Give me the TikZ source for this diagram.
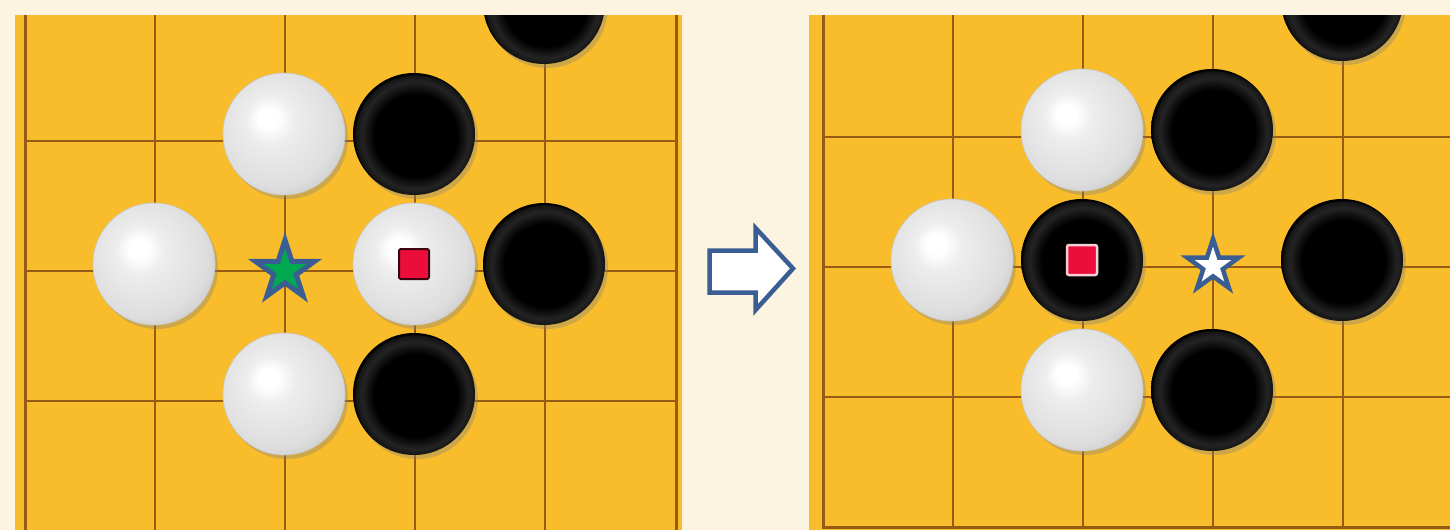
\documentclass[tikz,border=0pt]{standalone}
\usetikzlibrary{shapes.geometric,shadows}
\definecolor{paper}{RGB}{252,243,224}
\definecolor{wood}{RGB}{249,189,44}
\definecolor{gridline}{RGB}{150,92,22}
\definecolor{markblue}{RGB}{58,94,148}
\definecolor{markgreen}{RGB}{0,168,80}
\definecolor{markred}{RGB}{236,14,58}
\pgfdeclareradialshading{whitestone}{\pgfpoint{-7bp}{7bp}}{color(0bp)=(white); color(4bp)=(white); color(10bp)=(black!7!white); color(25bp)=(black!13!white); color(33bp)=(black!22!white); color(50bp)=(black!28!white)}
\pgfdeclareradialshading{blackstone}{\pgfpoint{1bp}{-1bp}}{color(0bp)=(black); color(17bp)=(black); color(22bp)=(black!86!white); color(24.5bp)=(black!92!white); color(25bp)=(black); color(50bp)=(black)}
\tikzset{
  stone/.style={circle, inner sep=0pt, minimum size=122pt,
    drop shadow={shadow xshift=3pt, shadow yshift=-4pt, opacity=.35}},
  wstone/.style={stone, shade, shading=whitestone, draw=black!22, line width=.6pt},
  bstone/.style={stone, shade, shading=blackstone},
  grid/.style={draw=gridline, line width=1.7pt},
  edge/.style={draw=gridline, line width=3pt},
  lastmark/.style={draw, rounded corners=2pt, fill=markred, minimum size=30pt, inner sep=0pt},
  starmark/.style={star, star points=5, star point ratio=2.618, inner sep=0pt, draw=markblue}
}
\begin{document}
\begin{tikzpicture}[x=1pt,y=-1pt]
		\useasboundingbox (0,0) rectangle (1450,530);
		\fill[paper] (0,0) rectangle (1450,530);
		%Left board
		\begin{scope}
		\clip (15,15) rectangle (682,530);
		\fill[wood] (15,15) rectangle (682,530);
		\foreach \x in {155,285,415,545}
		\draw[grid] (\x,15) -- (\x,530);
		\foreach \y in {141,271,401}
		\draw[grid] (25,\y) -- (676,\y);
		\draw[edge] (25,15) -- (25,530);
		\draw[edge] (676,15) -- (676,530);
		\node[wstone] (lw1) at (284,134) {};
		\node[bstone] (lb1) at (414,134) {};
		\node[wstone] (lw2) at (154,264) {};
		\node[wstone] (lw3) at (414,264) {};
		\node[bstone] (lb2) at (544,264) {};
		\node[wstone] (lw4) at (284,394) {};
		\node[bstone] (lb3) at (414,394) {};
		\node[bstone] (lb4) at (544,3) {};
		\end{scope}
		\node[starmark, fill=markgreen, line width=5pt, minimum size=62pt] (lstar) at (285,271) {};
		\node[lastmark, draw=black!75!markred, line width=2pt] (lsq) at (lw3.center) {};
		%Arrow
		\draw[markblue, fill=white, line width=4.5pt] (709.5,250.5) -- (755.5,250.5) -- (755.5,228) -- (793,268.5) -- (755.5,310) -- (755.5,292.5) -- (709.5,292.5) -- cycle;
		%Right board
		\begin{scope}
		\clip (809,15) rectangle (1450,530);
		\fill[wood] (809,15) rectangle (1450,530);
		\foreach \x in {953,1083,1213,1343}
		\draw[grid] (\x,15) -- (\x,527);
		\foreach \y in {137,267,397}
		\draw[grid] (823,\y) -- (1450,\y);
		\draw[edge] (823,15) -- (823,527) -- (1450,527);
		\node[wstone] (rw1) at (1082,130) {};
		\node[bstone] (rb1) at (1212,130) {};
		\node[wstone] (rw2) at (952,260) {};
		\node[bstone] (rb2) at (1082,260) {};
		\node[bstone] (rb3) at (1342,260) {};
		\node[wstone] (rw3) at (1082,390) {};
		\node[bstone] (rb4) at (1212,390) {};
		\node[bstone] (rb5) at (1342,0) {};
		\end{scope}
		\node[starmark, fill=white, line width=4.5pt, minimum size=54pt] (rstar) at (1213,266) {};
		\node[lastmark, draw=white!80!markred, line width=2.5pt] (rsq) at (rb2.center) {};
\end{tikzpicture}
\end{document}
